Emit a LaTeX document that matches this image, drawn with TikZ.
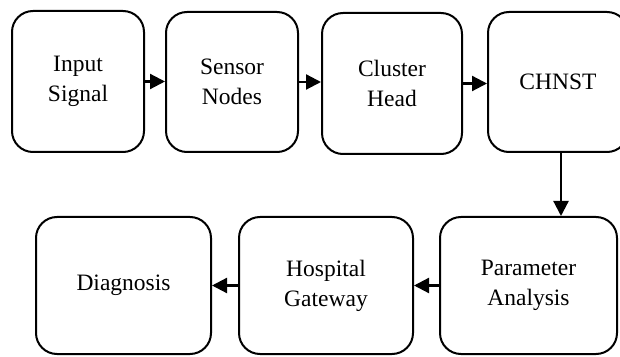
\documentclass[tikz,border=0pt]{standalone}
\usepackage{fontspec}
\setmainfont{Liberation Serif}
\usetikzlibrary{arrows.meta}
\begin{document}
\begin{tikzpicture}[x=1pt,y=1pt,
  box/.style={draw=black, line width=2pt, rounded corners=21pt, fill=white,
    align=center, inner sep=0pt,
    font=\fontsize{23.5}{30}\selectfont},
  flow/.style={line width=2.2pt, -{Triangle[length=15pt,width=15pt]}}]
\useasboundingbox (0,0) rectangle (620,356);
\node[box, minimum width=132pt, minimum height=141pt] (b1) at (78,274.5) {Input\\Signal};
\node[box, minimum width=132pt, minimum height=140pt] (b2) at (232,274) {Sensor\\Nodes};
\node[box, minimum width=140pt, minimum height=141pt] (b3) at (392,272.5) {Cluster\\Head};
\node[box, minimum width=140pt, minimum height=140pt] (b4) at (558,274) {CHNST};
\node[box, minimum width=175pt, minimum height=137pt] (d) at (123.5,70.5) {Diagnosis};
\node[box, minimum width=174pt, minimum height=137pt] (hg) at (326,70.5) {Hospital\\Gateway};
\node[box, minimum width=177pt, minimum height=137pt] (pa) at (528.5,70.5) {Parameter\\Analysis};
\draw[flow] (b1.east) -- (b1.east -| b2.west);
\draw[flow] (b2.east) -- (b2.east -| b3.west);
\draw[flow] (b3.east) -- (b3.east -| b4.west);
\draw[flow] ([xshift=3pt]b4.south) -- ([xshift=3pt]b4.south |- pa.north);
\draw[flow] (pa.west) -- (pa.west -| hg.east);
\draw[flow] (hg.west) -- (hg.west -| d.east);
\end{tikzpicture}
\end{document}
